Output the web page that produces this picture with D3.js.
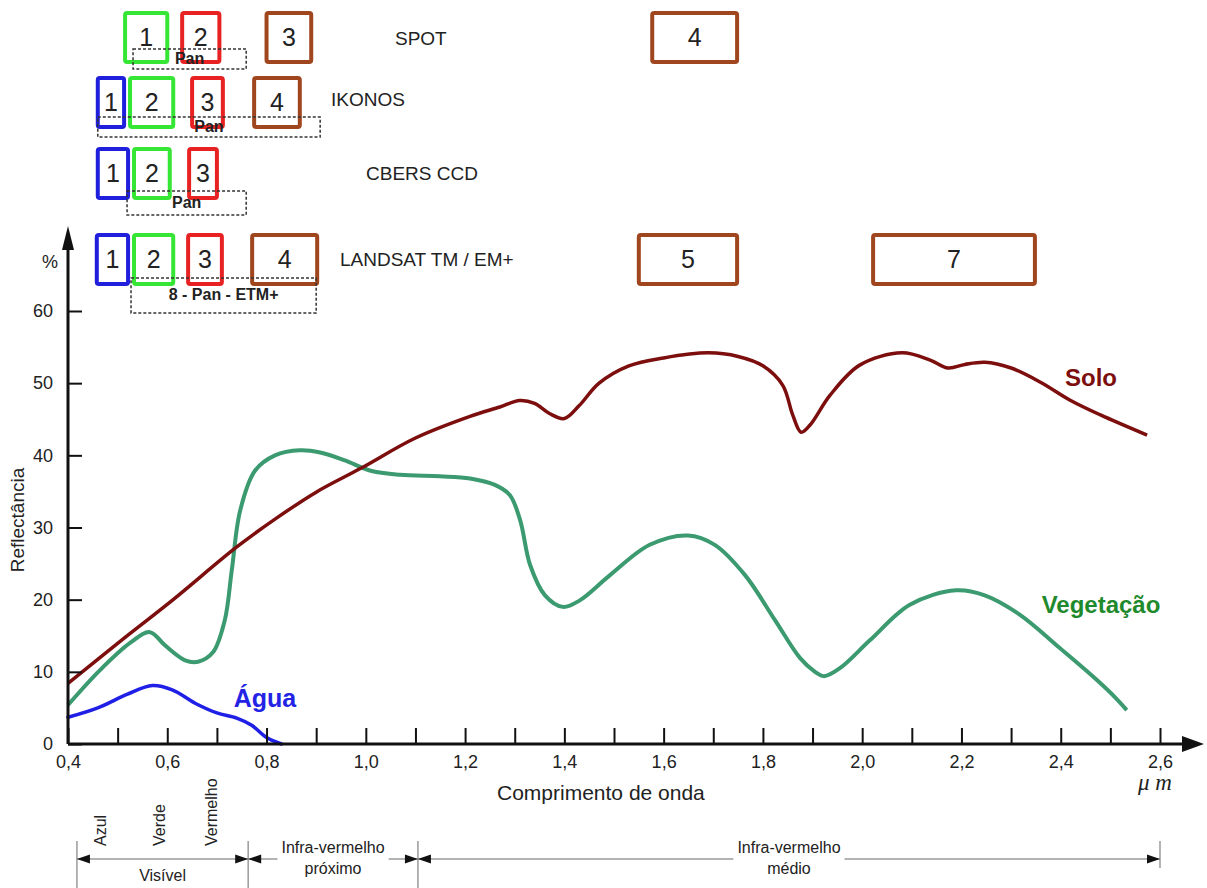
<!DOCTYPE html>
<html>
<head>
<meta charset="utf-8">
<script src="https://cdn.jsdelivr.net/npm/d3@7"></script>
<style>
  body { margin: 0; background: #fff; }
  text { font-family: "Liberation Sans", Arial, sans-serif; fill: #222; }
</style>
</head>
<body>
<svg class="chart"></svg>
<script>
// spectral curves: [wavelength (um), reflectance (%)]
const solo = [
	[0.4, 8.4], [0.51, 14.5], [0.61, 19.9], [0.74, 27.3], [0.82, 31.3],
	[0.9, 34.9], [0.99, 38.2], [1.1, 42.4], [1.21, 45.4], [1.27, 46.7],
	[1.31, 47.6], [1.34, 47.2], [1.37, 45.8], [1.4, 45.1], [1.43, 46.9],
	[1.47, 50], [1.53, 52.4], [1.6, 53.5], [1.69, 54.2], [1.75, 53.7],
	[1.8, 52.4], [1.84, 49.7], [1.86, 45.6], [1.877, 43.2], [1.895, 44.2],
	[1.935, 48.3], [1.995, 52.5], [2.08, 54.2], [2.137, 53.2], [2.173, 52.1],
	[2.207, 52.6], [2.247, 52.9], [2.3, 52.1], [2.36, 50.1], [2.42, 47.6],
	[2.48, 45.6], [2.574, 42.8],
];
const vegetacao = [
	[0.4, 5.4], [0.464, 10.2], [0.525, 14], [0.565, 15.5], [0.595, 13.7],
	[0.636, 11.6], [0.662, 11.4], [0.692, 12.7], [0.716, 17.2], [0.73, 24.1],
	[0.747, 32.4], [0.777, 37.9], [0.817, 40], [0.867, 40.7], [0.908, 40.4],
	[0.958, 39.3], [1.008, 37.9], [1.069, 37.3], [1.149, 37.1], [1.21, 36.8],
	[1.26, 35.9], [1.29, 34.5], [1.311, 31], [1.331, 24.8], [1.361, 20.6],
	[1.397, 19], [1.431, 19.9], [1.492, 23.4], [1.572, 27.6], [1.649, 28.9],
	[1.703, 27.6], [1.764, 23.4], [1.824, 17.2], [1.875, 11.9], [1.905, 10],
	[1.923, 9.4], [1.955, 10.5], [2.016, 14.4], [2.096, 19.3], [2.189, 21.3],
	[2.247, 20.6], [2.318, 17.9], [2.398, 13.3], [2.469, 9.1], [2.509, 6.5],
	[2.533, 4.7],
];
const agua = [
	[0.4, 3.7], [0.46, 5], [0.52, 6.9], [0.57, 8.1], [0.61, 7.5],
	[0.66, 5.5], [0.7, 4.3], [0.74, 3.6], [0.77, 2.6], [0.8, 0.9], [0.83, 0],
];

const yTicks = [0, 10, 20, 30, 40, 50, 60];
const xTicks = d3.range(4, 27).map((d) => d / 10);
const xLabels = [0.4, 0.6, 0.8, 1.0, 1.2, 1.4, 1.6, 1.8, 2.0, 2.2, 2.4, 2.6];

// satellite bands: [band, from, to, kind]
const satellites = ["SPOT", "IKONOS", "CBERS CCD", "LANDSAT TM / EM+"];
const spotBands = [
	["1", 0.515, 0.6, "verde"], ["2", 0.63, 0.705, "vermelho"],
	["3", 0.8, 0.89, "infra"], ["4", 1.577, 1.748, "infra"],
];
const ikonosBands = [
	["1", 0.46, 0.513, "azul"], ["2", 0.525, 0.612, "verde"],
	["3", 0.65, 0.712, "vermelho"], ["4", 0.775, 0.867, "infra"],
];
const cbersBands = [
	["1", 0.46, 0.521, "azul"], ["2", 0.533, 0.605, "verde"],
	["3", 0.644, 0.7, "vermelho"],
];
const landsatBands = [
	["1", 0.458, 0.521, "azul"], ["2", 0.533, 0.612, "verde"],
	["3", 0.642, 0.71, "vermelho"], ["4", 0.771, 0.902, "infra"],
	["5", 1.55, 1.748, "infra"], ["7", 2.022, 2.348, "infra"],
];
const panBands = [
	["Pan", 0.531, 0.759], ["Pan", 0.46, 0.908],
	["Pan", 0.519, 0.759], ["8 - Pan - ETM+", 0.527, 0.9],
];

// spectrum regions at the bottom
const regions = ["Visível", "Infra-vermelho|próximo", "Infra-vermelho|médio"];
const regionLimits = [0.418, 0.763, 1.105, 2.6];
const colorNames = ["Azul", "Verde", "Vermelho"];
const colorNamePos = [0.466, 0.585, 0.688];

const size = { w: 1207, h: 888 };
const svg = d3.select("svg.chart").attr("width", size.w).attr("height", size.h);

const xScale = d3.scaleLinear().domain([0.4, 2.6]).range([68, 1160]);
const yScale = d3.scaleLinear().domain([0, 60]).range([744, 311]);

const bandColor = d3
	.scaleOrdinal()
	.domain(["azul", "verde", "vermelho", "infra"])
	.range(["#2020dc", "#35e635", "#e82222", "#a0461e"]);

// ---- satellite band rows
const rowLayout = [
	{ top: 13, panTop: 49, panH: 20, panBase: 15, nameX: 395, nameY: 45 },
	{ top: 78, panTop: 117, panH: 20, panBase: 15, nameX: 331, nameY: 106 },
	{ top: 149, panTop: 191, panH: 24, panBase: 17, nameX: 366, nameY: 180 },
	{ top: 235, panTop: 278, panH: 35, panBase: 22, nameX: 340, nameY: 266 },
];
const boxH = 49;
const bandRows = [spotBands, ikonosBands, cbersBands, landsatBands];

const bandsG = svg.append("g").classed("bands", true);
bandRows.forEach((bands, i) => {
	const lay = rowLayout[i];
	const g = bandsG.append("g");
	g.selectAll("rect.band")
		.data(bands)
		.join("rect")
		.attr("class", "band")
		.attr("x", (d) => xScale(d[1]))
		.attr("y", lay.top)
		.attr("width", (d) => xScale(d[2]) - xScale(d[1]))
		.attr("height", boxH)
		.attr("rx", 2)
		.attr("fill", "none")
		.attr("stroke", (d) => bandColor(d[3]))
		.attr("stroke-width", 4);
	g.selectAll("text.num")
		.data(bands)
		.join("text")
		.attr("class", "num")
		.attr("x", (d) => (xScale(d[1]) + xScale(d[2])) / 2)
		.attr("y", lay.top + 33)
		.attr("text-anchor", "middle")
		.style("font-size", "25px")
		.text((d) => d[0]);

	const pan = panBands[i];
	g.append("rect")
		.attr("x", xScale(pan[1]))
		.attr("y", lay.panTop)
		.attr("width", xScale(pan[2]) - xScale(pan[1]))
		.attr("height", lay.panH)
		.attr("fill", "none")
		.attr("stroke", "#333")
		.attr("stroke-width", 1.5)
		.attr("stroke-dasharray", "3,2");
	g.append("text")
		.attr("x", (xScale(pan[1]) + xScale(pan[2])) / 2)
		.attr("y", lay.panTop + lay.panBase)
		.attr("text-anchor", "middle")
		.style("font-size", "16px")
		.style("font-weight", "bold")
		.text(pan[0]);

	g.append("text")
		.attr("x", lay.nameX)
		.attr("y", lay.nameY)
		.style("font-size", "19px")
		.text(satellites[i]);
});

// ---- curves
const line = d3
	.line()
	.x((d) => xScale(d[0]))
	.y((d) => yScale(d[1]))
	.curve(d3.curveCatmullRom.alpha(0.5));

const curvesG = svg.append("g").classed("curves", true);
curvesG.append("path").datum(vegetacao).attr("d", line)
	.attr("fill", "none").attr("stroke", "#3b9a6f").attr("stroke-width", 4);
curvesG.append("path").datum(solo).attr("d", line)
	.attr("fill", "none").attr("stroke", "#7c0e0e").attr("stroke-width", 3.5);
curvesG.append("path").datum(agua).attr("d", line)
	.attr("fill", "none").attr("stroke", "#1f1fe6").attr("stroke-width", 3.5)
	.attr("stroke-linecap", "round");

curvesG.append("text").attr("x", 1091).attr("y", 386).attr("text-anchor", "middle")
	.style("font-size", "24px").style("font-weight", "bold").style("fill", "#7c0e0e")
	.text("Solo");
curvesG.append("text").attr("x", 1101).attr("y", 613).attr("text-anchor", "middle")
	.style("font-size", "24px").style("font-weight", "bold").style("fill", "#1f8a2c")
	.text("Vegetação");
curvesG.append("text").attr("x", 265).attr("y", 707).attr("text-anchor", "middle")
	.style("font-size", "25px").style("font-weight", "bold").style("fill", "#2323e6")
	.text("Água");

// ---- axes
const axisG = svg.append("g").classed("axes", true);
const fmt = (d) => d3.format(".1f")(d).replace(".", ",");

const xAxis = axisG
	.append("g")
	.attr("transform", `translate(0,${yScale(0)})`)
	.call(
		d3.axisBottom(xScale)
			.tickValues(xTicks)
			.tickSizeInner(-16)
			.tickSizeOuter(0)
			.tickPadding(11)
			.tickFormat((d) => (xLabels.some((v) => Math.abs(v - d) < 1e-6) ? fmt(d) : ""))
	);
xAxis.select(".domain").remove();
xAxis.selectAll(".tick line").attr("stroke", "#111").attr("stroke-width", 2);
xAxis.selectAll(".tick text").style("font-size", "18px").attr("fill", "#222");

const yAxis = axisG
	.append("g")
	.attr("transform", `translate(${xScale(0.4)},0)`)
	.call(
		d3.axisLeft(yScale)
			.tickValues(yTicks)
			.tickSizeInner(-14)
			.tickSizeOuter(0)
			.tickPadding(15)
	);
yAxis.select(".domain").remove();
yAxis.selectAll(".tick line").attr("stroke", "#111").attr("stroke-width", 2);
yAxis.selectAll(".tick text").style("font-size", "18px").attr("fill", "#222");

const x0 = xScale(0.4), y0 = yScale(0);
axisG.append("line").attr("x1", x0).attr("x2", 1185).attr("y1", y0).attr("y2", y0)
	.attr("stroke", "#111").attr("stroke-width", 3);
axisG.append("path").attr("d", `M1204,${y0} L1182,${y0 - 8} L1182,${y0 + 8} Z`).attr("fill", "#111");
axisG.append("line").attr("x1", x0).attr("x2", x0).attr("y1", y0).attr("y2", 245)
	.attr("stroke", "#111").attr("stroke-width", 3);
axisG.append("path").attr("d", `M${x0},226 L${x0 - 6},250 L${x0 + 6},250 Z`).attr("fill", "#111");

axisG.append("text").attr("x", 50).attr("y", 268).attr("text-anchor", "middle")
	.style("font-size", "18px").text("%");
axisG.append("text").attr("transform", "translate(24,520) rotate(-90)")
	.attr("text-anchor", "middle").style("font-size", "19px").text("Reflectância");
axisG.append("text").attr("x", 497).attr("y", 800)
	.style("font-size", "21px").text("Comprimento de onda");
axisG.append("text").attr("x", 1138).attr("y", 790)
	.style("font-size", "23px").style("font-style", "italic")
	.style("font-family", "'Liberation Serif', 'Times New Roman', serif")
	.text("μ m");

// ---- spectrum regions
const regG = svg.append("g").classed("regions", true);
const lineY = 859;
const grey = "#9a9a9a";
regionLimits.forEach((v, i) => {
	regG.append("line")
		.attr("x1", xScale(v)).attr("x2", xScale(v))
		.attr("y1", 841).attr("y2", i === regionLimits.length - 1 ? 868 : 888)
		.attr("stroke", grey).attr("stroke-width", 1.5);
});

function arrowHead(x, dir) {
	regG.append("path")
		.attr("d", `M${x},${lineY} L${x - dir * 13},${lineY - 4.5} L${x - dir * 13},${lineY + 4.5} Z`)
		.attr("fill", "#111");
}

regions.forEach((name, i) => {
	const a = xScale(regionLimits[i]);
	const b = xScale(regionLimits[i + 1]);
	const cx = (a + b) / 2;
	const parts = name.split("|");
	if (parts.length === 1) {
		regG.append("line").attr("x1", a).attr("x2", b).attr("y1", lineY).attr("y2", lineY)
			.attr("stroke", grey).attr("stroke-width", 1.5);
		regG.append("text").attr("x", cx).attr("y", 881).attr("text-anchor", "middle")
			.style("font-size", "16px").text(parts[0]);
	} else {
		const t1 = regG.append("text").attr("x", cx).attr("y", 853).attr("text-anchor", "middle")
			.style("font-size", "16px").text(parts[0]);
		regG.append("text").attr("x", cx).attr("y", 874).attr("text-anchor", "middle")
			.style("font-size", "16px").text(parts[1]);
		const half = t1.node().getComputedTextLength() / 2 + 4;
		regG.append("line").attr("x1", a).attr("x2", cx - half).attr("y1", lineY).attr("y2", lineY)
			.attr("stroke", grey).attr("stroke-width", 1.5);
		regG.append("line").attr("x1", cx + half).attr("x2", b).attr("y1", lineY).attr("y2", lineY)
			.attr("stroke", grey).attr("stroke-width", 1.5);
	}
	arrowHead(a, -1);
	arrowHead(b, 1);
});

regG.selectAll("text.cname")
	.data(colorNames)
	.join("text")
	.attr("class", "cname")
	.attr("transform", (d, i) => `translate(${xScale(colorNamePos[i])},846) rotate(-90)`)
	.attr("dy", "0.35em")
	.style("font-size", "16px")
	.text((d) => d);
</script>
</body>
</html>
